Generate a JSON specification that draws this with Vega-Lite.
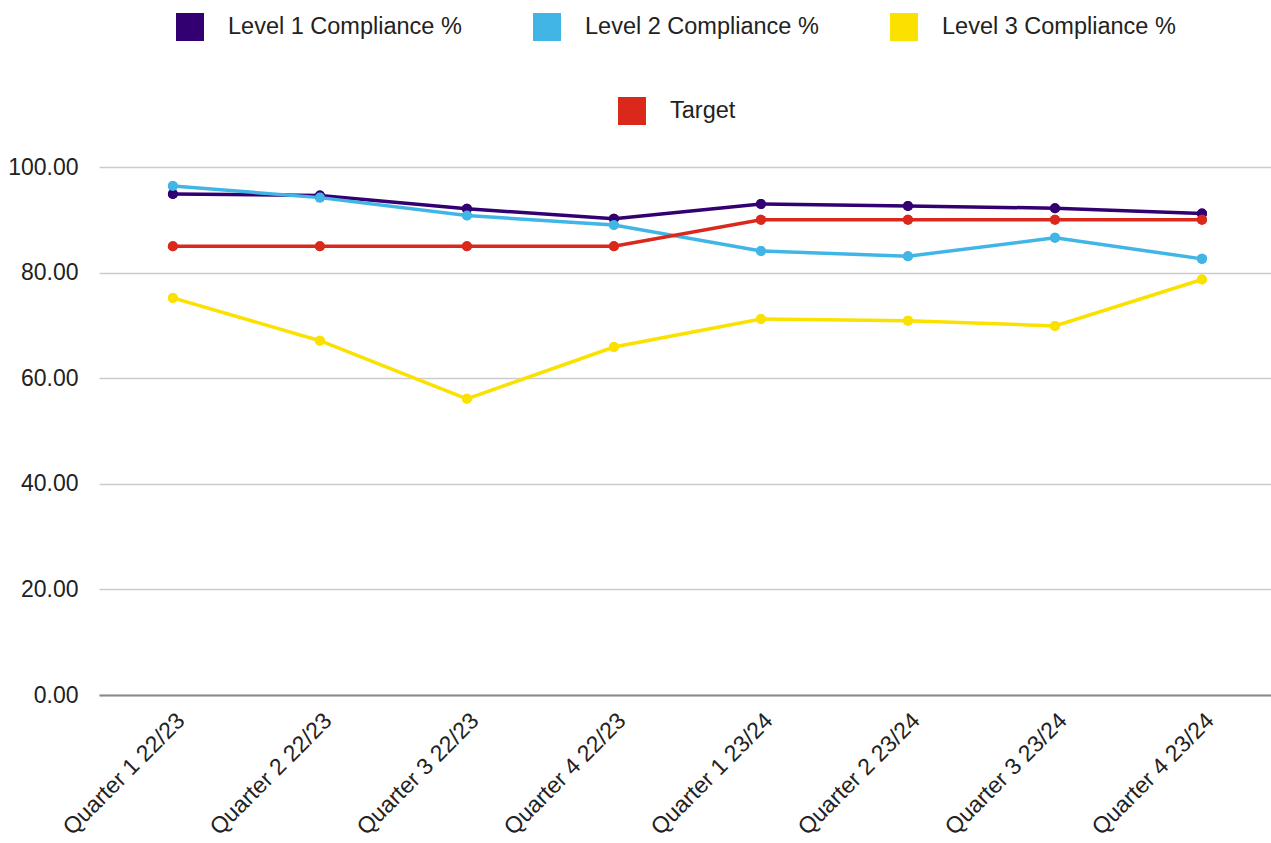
{
  "$schema": "https://vega.github.io/schema/vega-lite/v6.json",
  "width": 1172,
  "height": 528,
  "autosize": {"type": "none"},
  "padding": {"left": 99, "top": 167, "right": 0, "bottom": 148},
  "background": "white",
  "config": {
    "view": {"stroke": null},
    "font": "Liberation Sans",
    "legend": {"padding": 0}
  },
  "data": {
    "values": [
      {"quarter": "Quarter 1 22/23", "series": "Level 1 Compliance %", "value": 94.9},
      {"quarter": "Quarter 2 22/23", "series": "Level 1 Compliance %", "value": 94.6},
      {"quarter": "Quarter 3 22/23", "series": "Level 1 Compliance %", "value": 92.1},
      {"quarter": "Quarter 4 22/23", "series": "Level 1 Compliance %", "value": 90.2},
      {"quarter": "Quarter 1 23/24", "series": "Level 1 Compliance %", "value": 93.0},
      {"quarter": "Quarter 2 23/24", "series": "Level 1 Compliance %", "value": 92.6},
      {"quarter": "Quarter 3 23/24", "series": "Level 1 Compliance %", "value": 92.2},
      {"quarter": "Quarter 4 23/24", "series": "Level 1 Compliance %", "value": 91.2},
      {"quarter": "Quarter 1 22/23", "series": "Level 2 Compliance %", "value": 96.4},
      {"quarter": "Quarter 2 22/23", "series": "Level 2 Compliance %", "value": 94.2},
      {"quarter": "Quarter 3 22/23", "series": "Level 2 Compliance %", "value": 90.8},
      {"quarter": "Quarter 4 22/23", "series": "Level 2 Compliance %", "value": 89.0},
      {"quarter": "Quarter 1 23/24", "series": "Level 2 Compliance %", "value": 84.1},
      {"quarter": "Quarter 2 23/24", "series": "Level 2 Compliance %", "value": 83.1},
      {"quarter": "Quarter 3 23/24", "series": "Level 2 Compliance %", "value": 86.6},
      {"quarter": "Quarter 4 23/24", "series": "Level 2 Compliance %", "value": 82.6},
      {"quarter": "Quarter 1 22/23", "series": "Level 3 Compliance %", "value": 75.2},
      {"quarter": "Quarter 2 22/23", "series": "Level 3 Compliance %", "value": 67.1},
      {"quarter": "Quarter 3 22/23", "series": "Level 3 Compliance %", "value": 56.1},
      {"quarter": "Quarter 4 22/23", "series": "Level 3 Compliance %", "value": 65.9},
      {"quarter": "Quarter 1 23/24", "series": "Level 3 Compliance %", "value": 71.2},
      {"quarter": "Quarter 2 23/24", "series": "Level 3 Compliance %", "value": 70.9},
      {"quarter": "Quarter 3 23/24", "series": "Level 3 Compliance %", "value": 69.9},
      {"quarter": "Quarter 4 23/24", "series": "Level 3 Compliance %", "value": 78.7},
      {"quarter": "Quarter 1 22/23", "series": "Target", "value": 85},
      {"quarter": "Quarter 2 22/23", "series": "Target", "value": 85},
      {"quarter": "Quarter 3 22/23", "series": "Target", "value": 85},
      {"quarter": "Quarter 4 22/23", "series": "Target", "value": 85},
      {"quarter": "Quarter 1 23/24", "series": "Target", "value": 90},
      {"quarter": "Quarter 2 23/24", "series": "Target", "value": 90},
      {"quarter": "Quarter 3 23/24", "series": "Target", "value": 90},
      {"quarter": "Quarter 4 23/24", "series": "Target", "value": 90}
    ]
  },
  "encoding": {
    "x": {
      "field": "quarter",
      "type": "nominal",
      "sort": null,
      "scale": {"type": "point", "padding": 0.486, "align": 0.517},
      "axis": {
        "title": null,
        "labelAngle": -45,
        "labelFontSize": 23,
        "labelColor": "#222222",
        "labelPadding": 14,
        "ticks": false,
        "domain": true,
        "domainColor": "#888888",
        "domainWidth": 2,
        "grid": false
      }
    },
    "y": {
      "field": "value",
      "type": "quantitative",
      "scale": {"domain": [0, 100], "nice": false},
      "axis": {
        "title": null,
        "values": [0, 20, 40, 60, 80, 100],
        "format": ".2f",
        "labelFontSize": 23,
        "labelColor": "#222222",
        "labelPadding": 21,
        "ticks": false,
        "tickSize": 0,
        "domain": false,
        "grid": true,
        "gridColor": "#cccccc",
        "gridWidth": 1.5
      }
    }
  },
  "layer": [
    {
      "transform": [{"filter": "datum.series !== 'Target'"}],
      "encoding": {
        "color": {
          "field": "series",
          "type": "nominal",
          "scale": {
            "domain": ["Level 1 Compliance %", "Level 2 Compliance %", "Level 3 Compliance %"],
            "range": ["#330072", "#41b6e6", "#fae100"]
          },
          "legend": {
            "title": null,
            "orient": "none",
            "legendX": 77,
            "legendY": -154,
            "direction": "horizontal",
            "columns": 3,
            "columnPadding": 71,
            "symbolType": "square",
            "symbolSize": 784,
            "symbolStrokeWidth": 0,
            "labelFontSize": 23.5,
            "labelColor": "#222222",
            "labelOffset": 24,
            "labelLimit": 400
          }
        }
      },
      "layer": [
        {"mark": {"type": "point", "filled": true, "size": 100, "opacity": 1}},
        {"mark": {"type": "line", "strokeWidth": 3.5}},
        {"mark": {"type": "point", "filled": true, "size": 100, "opacity": 1}}
      ]
    },
    {
      "transform": [{"filter": "datum.series === 'Target'"}],
      "encoding": {
        "color": {
          "field": "series",
          "type": "nominal",
          "scale": {"domain": ["Target"], "range": ["#da291c"]},
          "legend": {
            "title": null,
            "orient": "none",
            "legendX": 519,
            "legendY": -70,
            "direction": "horizontal",
            "symbolType": "square",
            "symbolSize": 784,
            "symbolStrokeWidth": 0,
            "labelFontSize": 23.5,
            "labelColor": "#222222",
            "labelOffset": 24,
            "labelLimit": 400
          }
        }
      },
      "layer": [
        {"mark": {"type": "point", "filled": true, "size": 100, "opacity": 1}},
        {"mark": {"type": "line", "strokeWidth": 3.5}},
        {"mark": {"type": "point", "filled": true, "size": 100, "opacity": 1}}
      ]
    }
  ],
  "resolve": {"scale": {"color": "independent"}}
}
